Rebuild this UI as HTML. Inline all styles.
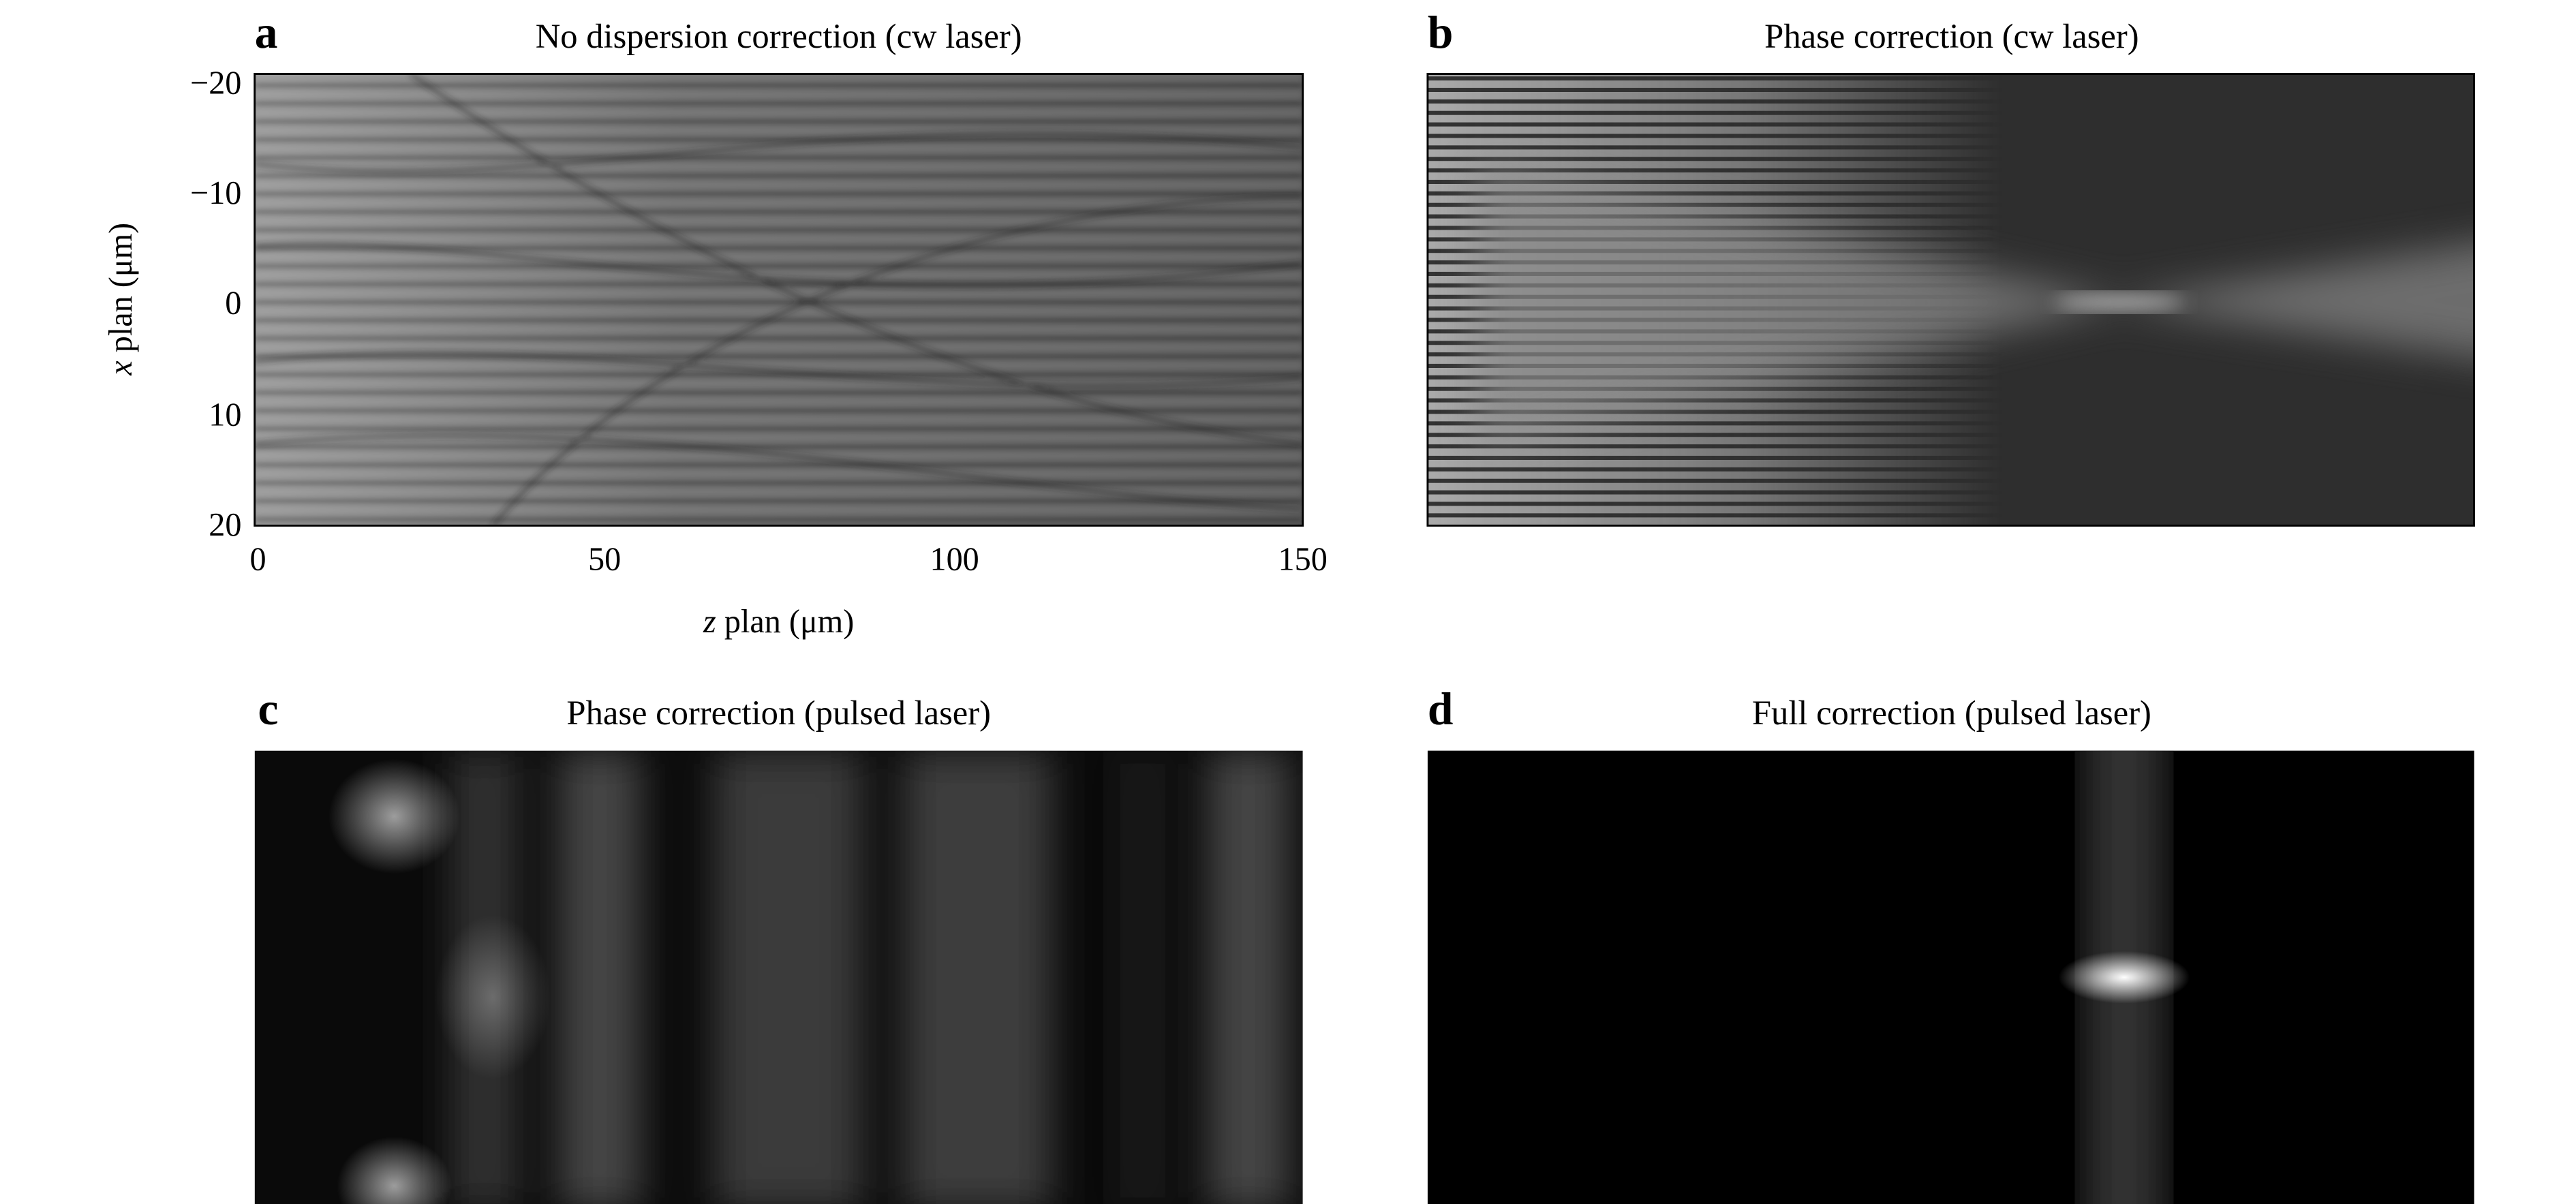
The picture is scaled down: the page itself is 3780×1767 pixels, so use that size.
<!DOCTYPE html>
<html><head><meta charset="utf-8"><style>html,body{margin:0;padding:0;background:#fff}svg{display:block}</style></head>
<body>
<svg width="3780" height="1767" viewBox="0 0 1568 733" xmlns="http://www.w3.org/2000/svg" font-family="'Liberation Serif',serif">
<defs>
<filter id="b2"><feGaussianBlur stdDeviation="2"/></filter>
<filter id="b6"><feGaussianBlur stdDeviation="6"/></filter>
<filter id="b12"><feGaussianBlur stdDeviation="12"/></filter>
<clipPath id="ca"><rect x="155" y="45" width="638" height="275"/></clipPath>
<clipPath id="cb"><rect x="869" y="45" width="637" height="275"/></clipPath>
<clipPath id="cd"><rect x="869" y="457" width="637" height="280"/></clipPath>
<pattern id="hs" width="10" height="7" patternUnits="userSpaceOnUse"><rect width="10" height="7" fill="#aaa"/><rect y="4.5" width="10" height="2.5" fill="#333"/></pattern>
<linearGradient id="fadeL" x1="0" x2="1"><stop offset="0" stop-color="#fff"/><stop offset="0.3" stop-color="#fff" stop-opacity="0.6"/><stop offset="0.55" stop-color="#fff" stop-opacity="0"/></linearGradient>
<mask id="mb"><rect x="869" y="45" width="637" height="275" fill="url(#fadeL)"/></mask>
<linearGradient id="ga" x1="0" x2="1"><stop offset="0" stop-color="#9a9a9a"/><stop offset="0.4" stop-color="#6a6a6a"/><stop offset="1" stop-color="#555"/></linearGradient>
<pattern id="ha" width="40" height="11" patternUnits="userSpaceOnUse"><rect y="7" width="40" height="2" fill="#222" opacity="0.6"/><rect y="1" width="40" height="3" fill="#bbb" opacity="0.3"/></pattern>
<radialGradient id="spot"><stop offset="0" stop-color="#fff"/><stop offset="1" stop-color="#fff" stop-opacity="0"/></radialGradient>
</defs>
<!-- panel a -->
<rect x="155" y="45" width="638" height="275" fill="url(#ga)"/>
<g clip-path="url(#ca)">
<rect x="155" y="45" width="638" height="275" fill="url(#ha)" filter="url(#b2)"/>
<g stroke="#1a1a1a" stroke-width="2" fill="none" opacity="0.6" filter="url(#b2)">
<path d="M155 150 C300 140 500 200 793 160"/><path d="M155 220 C350 200 550 250 793 230"/><path d="M155 100 C350 120 500 60 793 90"/><path d="M155 270 C400 250 600 300 793 310"/><path d="M300 320 C400 200 600 120 793 120"/><path d="M250 45 C400 150 600 250 793 270"/>
</g></g>
<rect x="155" y="45" width="638" height="275" fill="none" stroke="#000" stroke-width="1.2"/>
<!-- panel b -->
<rect x="869" y="45" width="637" height="275" fill="#2e2e2e"/>
<g clip-path="url(#cb)">
<rect x="869" y="45" width="637" height="275" fill="url(#hs)" mask="url(#mb)"/>
<polygon points="900,100 1290,183 1560,140 1560,225 1290,185 900,270" fill="#888" filter="url(#b12)" opacity="0.7"/>
<ellipse cx="1290" cy="184" rx="40" ry="6" fill="#aaa" filter="url(#b6)"/>
</g>
<rect x="869" y="45" width="637" height="275" fill="none" stroke="#000" stroke-width="1.2"/>
<!-- panel c -->
<svg x="155" y="457" width="638" height="280" viewBox="0 0 638 280">
<rect width="638" height="280" fill="#0a0a0a"/>
<g filter="url(#b12)" fill="#444">
<rect x="120" y="0" width="40" height="280" fill="#333"/><rect x="185" y="0" width="50" height="280"/><rect x="280" y="0" width="90" height="280" fill="#3a3a3a"/><rect x="395" y="0" width="90" height="280" fill="#3d3d3d"/><rect x="580" y="0" width="50" height="280" fill="#444"/><rect x="530" y="0" width="20" height="280" fill="#222"/>
</g>
<ellipse cx="85" cy="40" rx="40" ry="35" fill="url(#spot)" opacity="0.6"/>
<ellipse cx="85" cy="265" rx="35" ry="30" fill="url(#spot)" opacity="0.6"/>
<ellipse cx="145" cy="150" rx="35" ry="50" fill="url(#spot)" opacity="0.3"/>
</svg>
<!-- panel d -->
<rect x="869" y="457" width="637" height="280" fill="#000"/>
<g clip-path="url(#cd)">
<rect x="1268" y="430" width="50" height="330" fill="#333" filter="url(#b12)"/>
<ellipse cx="1293" cy="595" rx="40" ry="16" fill="url(#spot)"/>
</g>
<!-- axes labels -->
<g font-size="20" fill="#000">
<g text-anchor="end"><text x="147" y="57">−20</text><text x="147" y="124">−10</text><text x="147" y="191">0</text><text x="147" y="259">10</text><text x="147" y="326">20</text></g>
<g text-anchor="middle"><text x="157" y="347">0</text><text x="368" y="347">50</text><text x="581" y="347">100</text><text x="793" y="347">150</text>
<text x="474" y="385"><tspan font-style="italic">z</tspan> plan (μm)</text>
<text transform="translate(80 182) rotate(-90)"><tspan font-style="italic">x</tspan> plan (μm)</text>
<text x="474" y="29" font-size="21">No dispersion correction (cw laser)</text>
<text x="1188" y="29" font-size="21">Phase correction (cw laser)</text>
<text x="474" y="441" font-size="21">Phase correction (pulsed laser)</text>
<text x="1188" y="441" font-size="21">Full correction (pulsed laser)</text></g>
<g font-size="28" font-weight="bold"><text x="155" y="29">a</text><text x="869" y="29">b</text><text x="157" y="441">c</text><text x="869" y="441">d</text></g>
</g>
</svg>
</body></html>
